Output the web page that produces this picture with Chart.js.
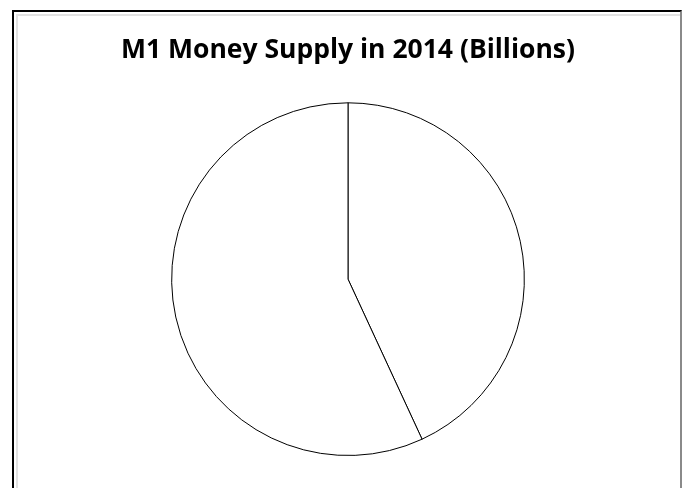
<!DOCTYPE html>
<html>
<head>
<meta charset="utf-8">
<script src="https://cdn.jsdelivr.net/npm/chart.js@4"></script>
<style>
  html, body { margin: 0; padding: 0; background: #fff; }
  #wrap { position: relative; width: 682px; height: 488px; overflow: hidden; }
  #frame {
    position: absolute; left: 12px; top: 10px; width: 666px; height: 500px;
    border-top: 2px solid #000; border-left: 2px solid #000; border-right: 2px solid #8a8a8a;
    pointer-events: none;
  }
  #inner {
    position: absolute; left: 2px; top: 2px; right: 0; bottom: 0;
    border-top: 2px solid #e2e2e2; border-left: 2px solid #e2e2e2;
  }
  canvas { position: absolute; left: 0; top: 0; }
</style>
</head>
<body>
<div id="wrap">
  <canvas id="chart1" width="682" height="488"></canvas>
  <div id="frame"><div id="inner"></div></div>
</div>
<script>
const categories = ['Currency', 'Checkable Deposits'];
const values = [1250, 1650];
const chartTitle = 'M1 Money Supply in 2014 (Billions)';

const ctx = document.getElementById('chart1').getContext('2d');
const chart1 = new Chart(ctx, {
    type: 'pie',
    data: {
        labels: categories,
        datasets: [{
            data: values,
            backgroundColor: '#ffffff',
            borderColor: '#000000',
            borderWidth: 1
        }]
    },
    options: {
        responsive: false,
        animation: false,
        layout: { padding: { left: 14, right: 0, top: 0, bottom: 32 } },
        plugins: {
            legend: { display: false },
            tooltip: { enabled: false },
            title: {
                display: true,
                text: chartTitle,
                color: '#000',
                font: { family: 'Open Sans', size: 26.5, weight: 'bold', lineHeight: 1.2 },
                padding: { top: 34.5, bottom: 36 }
            }
        }
    }
});
</script>
</body>
</html>
